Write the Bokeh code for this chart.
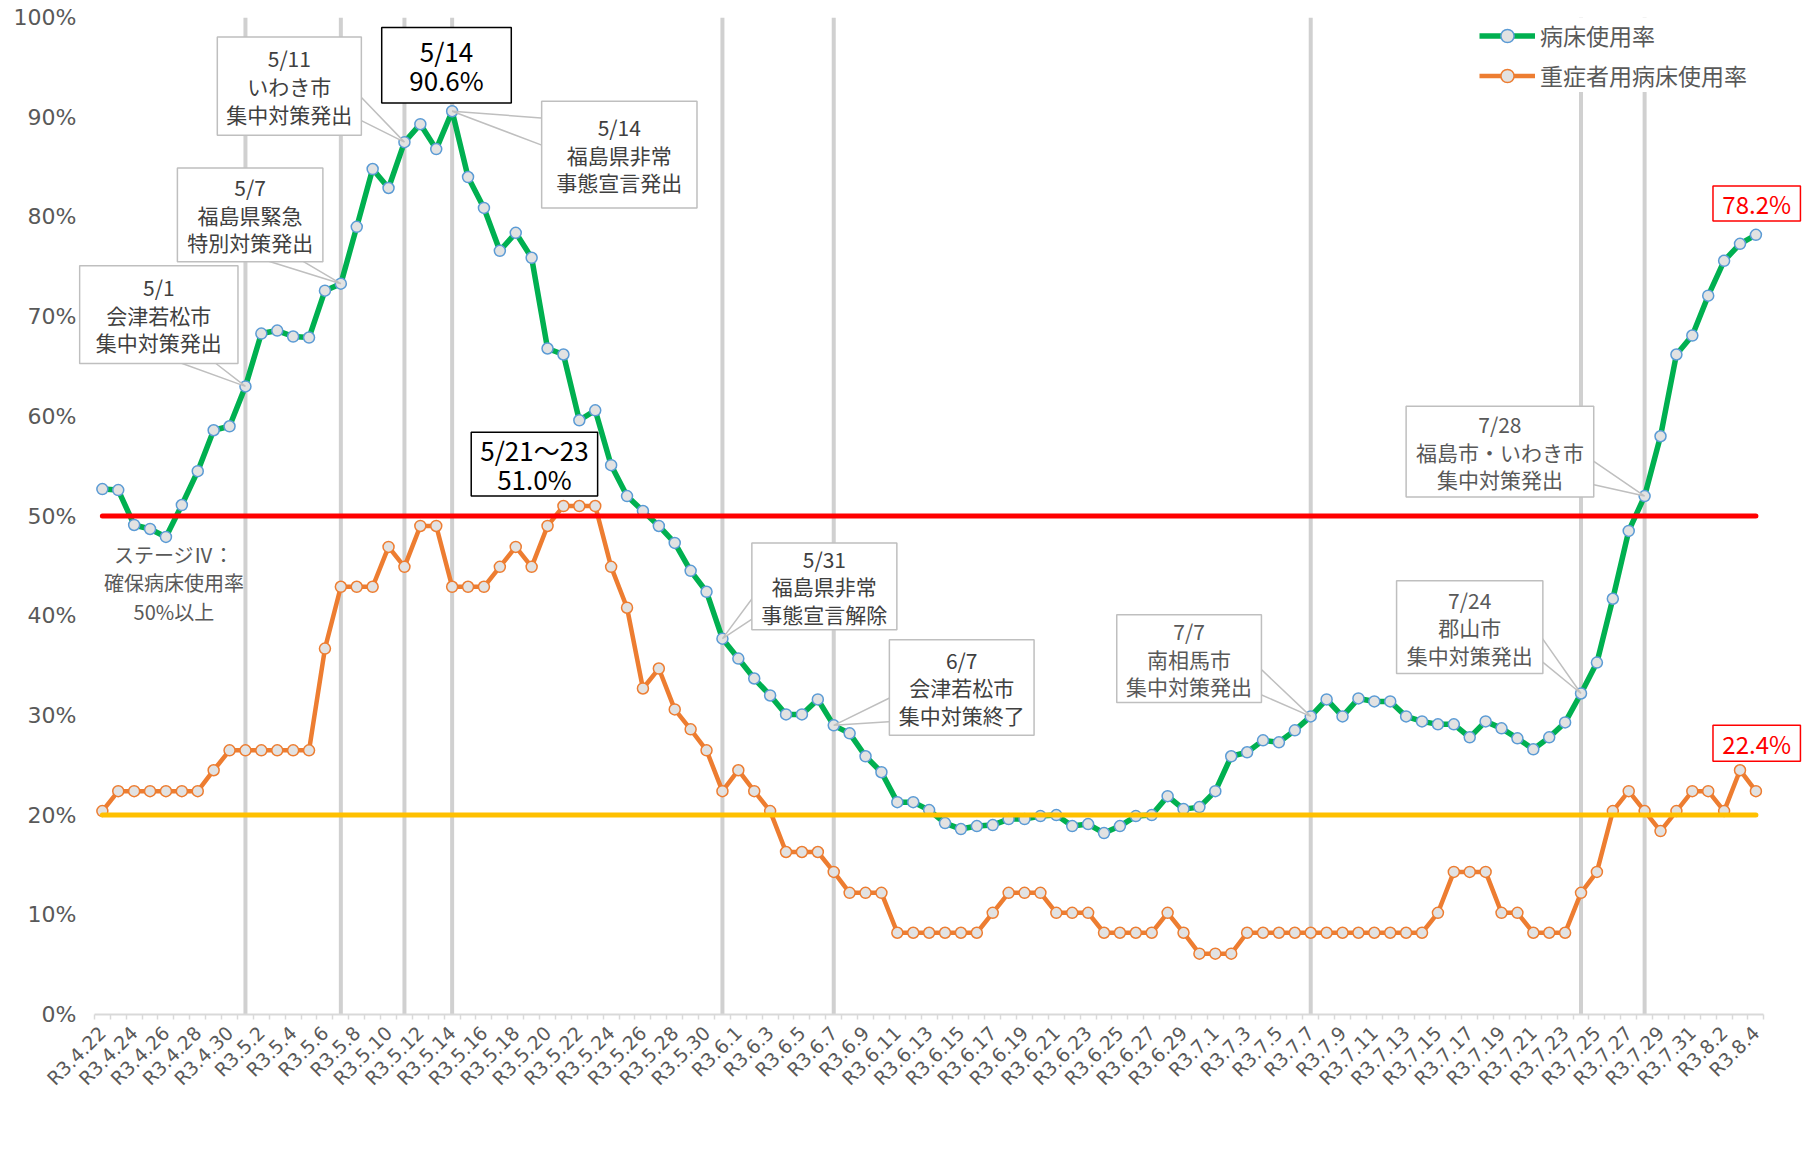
import math
from datetime import date, timedelta

from bokeh.plotting import figure
from bokeh.models import FixedTicker, Range1d, Legend, LegendItem, PrintfTickFormatter
from bokeh.embed import file_html
from bokeh.resources import INLINE
from bokeh.core.properties import value

# ---------------- data ----------------
first_day = date(2021, 4, 22)
n_days = 105
day_labels = []
for i in range(n_days):
    d = first_day + timedelta(days=i)
    day_labels.append(f"R3.{d.month}.{d.day}")

# 病床使用率 (%)
bed_rate = [
    52.7, 52.6, 49.1, 48.7, 47.9, 51.1, 54.5, 58.6, 59.0, 63.0,
    68.3, 68.6, 68.0, 67.9, 72.6, 73.3, 79.0, 84.8, 82.9, 87.5,
    89.3, 86.8, 90.6, 84.0, 80.9, 76.6, 78.4, 75.9, 66.8, 66.2,
    59.6, 60.6, 55.1, 52.0, 50.5, 49.0, 47.3, 44.5, 42.4, 37.7,
    35.7, 33.7, 32.0, 30.1, 30.1, 31.6, 29.0, 28.2, 25.9, 24.3,
    21.3, 21.3, 20.5, 19.2, 18.6, 18.9, 19.0, 19.6, 19.6, 19.9,
    20.0, 18.9, 19.1, 18.2, 18.9, 19.9, 20.0, 21.9, 20.6, 20.8,
    22.4, 25.9, 26.3, 27.5, 27.3, 28.5, 29.9, 31.6, 29.9, 31.7,
    31.4, 31.4, 29.9, 29.4, 29.1, 29.1, 27.8, 29.4, 28.7, 27.7,
    26.6, 27.8, 29.3, 32.2, 35.3, 41.7, 48.5, 52.0, 58.0, 66.2,
    68.1, 72.1, 75.6, 77.3, 78.2,
]

# 重症者用病床使用率 (%)
severe_rate = [
    20.4, 22.4, 22.4, 22.4, 22.4, 22.4, 22.4, 24.5, 26.5, 26.5,
    26.5, 26.5, 26.5, 26.5, 36.7, 42.9, 42.9, 42.9, 46.9, 44.9,
    49.0, 49.0, 42.9, 42.9, 42.9, 44.9, 46.9, 44.9, 49.0, 51.0,
    51.0, 51.0, 44.9, 40.8, 32.7, 34.7, 30.6, 28.6, 26.5, 22.4,
    24.5, 22.4, 20.4, 16.3, 16.3, 16.3, 14.3, 12.2, 12.2, 12.2,
    8.2, 8.2, 8.2, 8.2, 8.2, 8.2, 10.2, 12.2, 12.2, 12.2,
    10.2, 10.2, 10.2, 8.2, 8.2, 8.2, 8.2, 10.2, 8.2, 6.1,
    6.1, 6.1, 8.2, 8.2, 8.2, 8.2, 8.2, 8.2, 8.2, 8.2,
    8.2, 8.2, 8.2, 8.2, 10.2, 14.3, 14.3, 14.3, 10.2, 10.2,
    8.2, 8.2, 8.2, 12.2, 14.3, 20.4, 22.4, 20.4, 18.4, 20.4,
    22.4, 22.4, 20.4, 24.5, 22.4,
]

stage4_level = 50   # ステージⅣ
stage3_level = 20
y_ticks = [0, 10, 20, 30, 40, 50, 60, 70, 80, 90, 100]
event_days = ["R3.5.1", "R3.5.7", "R3.5.11", "R3.5.14", "R3.5.31",
              "R3.6.7", "R3.7.7", "R3.7.24", "R3.7.28"]

x_idx = list(range(n_days))
event_idx = [day_labels.index(s) for s in event_days]

# ---------------- styling ----------------
FONT = value("Noto Sans CJK JP")
GREEN = "#00b050"
ORANGE = "#ed7d31"
GREY_TXT = "#595959"

p = figure(width=1802, height=1134, output_backend="svg", toolbar_location=None,
           x_range=Range1d(-1.5, 106.93), y_range=Range1d(0, 100),
           min_border_left=78, min_border_right=0, min_border_top=17, min_border_bottom=120)
p.outline_line_color = None
p.xgrid.visible = False
p.ygrid.visible = False
p.background_fill_color = "white"
p.border_fill_color = "white"

# x axis
xa = p.xaxis[0]
xa.ticker = FixedTicker(ticks=[i for i in x_idx if i % 2 == 0],
                        minor_ticks=[i - 0.5 for i in range(n_days + 1)])
xa.major_label_overrides = {i: day_labels[i] for i in x_idx if i % 2 == 0}
xa.major_label_orientation = math.pi / 4
xa.bounds = (-0.5, n_days - 0.5)
xa.axis_line_color = "#d9d9d9"
xa.axis_line_width = 2
xa.major_tick_line_color = None
xa.major_tick_out = 0
xa.major_tick_in = 0
xa.minor_tick_line_color = "#d9d9d9"
xa.minor_tick_line_width = 1.5
xa.minor_tick_out = 5
xa.minor_tick_in = 0
xa.major_label_standoff = 10
xa.major_label_text_font = "DejaVu Sans"
xa.major_label_text_font_size = "19px"
xa.major_label_text_color = GREY_TXT

# y axis
ya = p.yaxis[0]
ya.ticker = FixedTicker(ticks=y_ticks)
ya.formatter = PrintfTickFormatter(format="%d%%")
ya.axis_line_color = None
ya.major_tick_line_color = None
ya.minor_tick_line_color = None
ya.major_tick_out = 0
ya.major_tick_in = 0
ya.major_label_standoff = 2
ya.major_label_text_font = "DejaVu Sans"
ya.major_label_text_font_size = "22px"
ya.major_label_text_color = GREY_TXT

# event vertical lines
p.segment(x0=event_idx, y0=[0] * len(event_idx), x1=event_idx, y1=[100] * len(event_idx),
          line_color="#d0d0d0", line_width=4)

# series
o_line = p.line(x_idx, severe_rate, line_color=ORANGE, line_width=4.5, line_join="round")
o_pts = p.scatter(x_idx, severe_rate, size=11, fill_color="#e2e2e2",
                  line_color=ORANGE, line_width=1.5)
g_line = p.line(x_idx, bed_rate, line_color=GREEN, line_width=5.5, line_join="round")
g_pts = p.scatter(x_idx, bed_rate, size=11, fill_color="#e2e2e2",
                  line_color="#5b9bd5", line_width=1.5)

# threshold lines
p.segment(x0=[0], y0=[stage4_level], x1=[n_days - 1], y1=[stage4_level],
          line_color="#ff0000", line_width=5, line_cap="round")
p.segment(x0=[0], y0=[stage3_level], x1=[n_days - 1], y1=[stage3_level],
          line_color="#ffc000", line_width=5, line_cap="round")

# ---------------- callouts ----------------
callouts = [
    dict(text="5/1\n会津若松市\n集中対策発出", box=(-1.43, 8.53, 75.1, 65.3),
         base=[(4.5, 65.6), (6.9, 65.6)], day="R3.5.1", color="#404040"),
    dict(text="5/7\n福島県緊急\n特別対策発出", box=(4.72, 13.87, 84.9, 75.5),
         base=[(9.96, 75.8), (12.36, 75.8)], day="R3.5.7", color="#404040"),
    dict(text="5/11\nいわき市\n集中対策発出", box=(7.23, 16.29, 98.05, 88.2),
         base=[(16.1, 92.3), (16.1, 89.8)], day="R3.5.11", color="#404040"),
    dict(text="5/14\n福島県非常\n事態宣言発出", box=(27.63, 37.4, 91.6, 80.9),
         base=[(27.8, 89.9), (27.8, 87.1)], day="R3.5.14", color="#404040"),
    dict(text="5/31\n福島県非常\n事態宣言解除", box=(40.85, 49.97, 47.3, 38.6),
         base=[(41.0, 42.0), (41.0, 39.8)], day="R3.5.31", color="#404040"),
    dict(text="6/7\n会津若松市\n集中対策終了", box=(49.5, 58.6, 37.6, 28.0),
         base=[(49.7, 31.9), (49.7, 29.4)], day="R3.6.7", color="#404040"),
    dict(text="7/7\n南相馬市\n集中対策発出", box=(63.8, 72.9, 40.1, 31.3),
         base=[(72.7, 34.9), (72.7, 32.2)], day="R3.7.7", color=GREY_TXT),
    dict(text="7/24\n郡山市\n集中対策発出", box=(81.4, 90.6, 43.5, 34.2),
         base=[(90.4, 38.1), (90.4, 35.6)], day="R3.7.24", color=GREY_TXT),
    dict(text="7/28\n福島市・いわき市\n集中対策発出", box=(82.0, 93.8, 61.0, 51.9),
         base=[(93.6, 55.7), (93.6, 53.2)], day="R3.7.28", color=GREY_TXT),
]

tail_xs, tail_ys = [], []
for c in callouts:
    ti = day_labels.index(c["day"])
    (bx0, by0), (bx1, by1) = c["base"]
    tail_xs.append([bx0, ti, bx1])
    tail_ys.append([by0, bed_rate[ti], by1])
p.patches(tail_xs, tail_ys, fill_color="white", line_color="#bfbfbf", line_width=1.5)
p.quad(left=[c["box"][0] for c in callouts], right=[c["box"][1] for c in callouts],
       top=[c["box"][2] for c in callouts], bottom=[c["box"][3] for c in callouts],
       fill_color="white", line_color="#bfbfbf", line_width=1.5)
for c in callouts:
    x0, x1, t, b = c["box"]
    p.text(x=[(x0 + x1) / 2], y=[(t + b) / 2], text=[c["text"]], text_font=FONT,
           text_font_size="21px", text_align="center", text_baseline="middle",
           text_line_height=0.92, text_color=c["color"])

# highlight boxes
peak_i = bed_rate.index(max(bed_rate))
sev_peak = max(severe_rate)
sev_days = [i for i, v in enumerate(severe_rate) if v == sev_peak]
d_first = first_day + timedelta(days=sev_days[0])
d_last = first_day + timedelta(days=sev_days[-1])
peak_day = first_day + timedelta(days=peak_i)

highlights = [
    dict(text=f"{peak_day.month}/{peak_day.day}\n{max(bed_rate):.1f}%",
         box=(17.57, 25.72, 99.0, 91.43), color="black", border="black", size="26px"),
    dict(text=f"{d_first.month}/{d_first.day}～{d_last.day}\n{sev_peak:.1f}%",
         box=(23.2, 31.15, 58.4, 52.0), color="black", border="black", size="26px"),
    dict(text=f"{bed_rate[-1]:.1f}%", box=(101.3, 106.8, 83.1, 79.6),
         color="#ff0000", border="#ff0000", size="24px"),
    dict(text=f"{severe_rate[-1]:.1f}%", box=(101.3, 106.8, 29.0, 25.4),
         color="#ff0000", border="#ff0000", size="24px"),
]
for h in highlights:
    x0, x1, t, b = h["box"]
    p.quad(left=[x0], right=[x1], top=[t], bottom=[b], fill_color="white",
           line_color=h["border"], line_width=1.5)
    p.text(x=[(x0 + x1) / 2], y=[(t + b) / 2], text=[h["text"]], text_font=FONT,
           text_font_size=h["size"], text_align="center", text_baseline="middle",
           text_line_height=0.78, text_color=h["color"])

# stage IV note
p.text(x=[4.5], y=[43.3], text=["ステージⅣ：\n確保病床使用率\n50%以上"], text_font=FONT,
       text_font_size="20px", text_align="center", text_baseline="middle",
       text_line_height=0.99, text_color=GREY_TXT)

# legend
legend = Legend(items=[
    LegendItem(label="病床使用率", renderers=[g_line, g_pts]),
    LegendItem(label="重症者用病床使用率", renderers=[o_line, o_pts]),
])
legend.location = (1401, 922)
legend.orientation = "vertical"
legend.border_line_color = None
legend.background_fill_color = "white"
legend.background_fill_alpha = 1.0
legend.label_text_font = "Noto Sans CJK JP"
legend.label_text_font_size = "23px"
legend.label_text_color = GREY_TXT
legend.glyph_width = 56
legend.glyph_height = 33
legend.label_height = 33
legend.spacing = 6
legend.padding = 0
legend.margin = 0
legend.label_standoff = 5
p.add_layout(legend, "center")

open("out.html", "w").write(file_html(p, INLINE, title="病床使用率"))
